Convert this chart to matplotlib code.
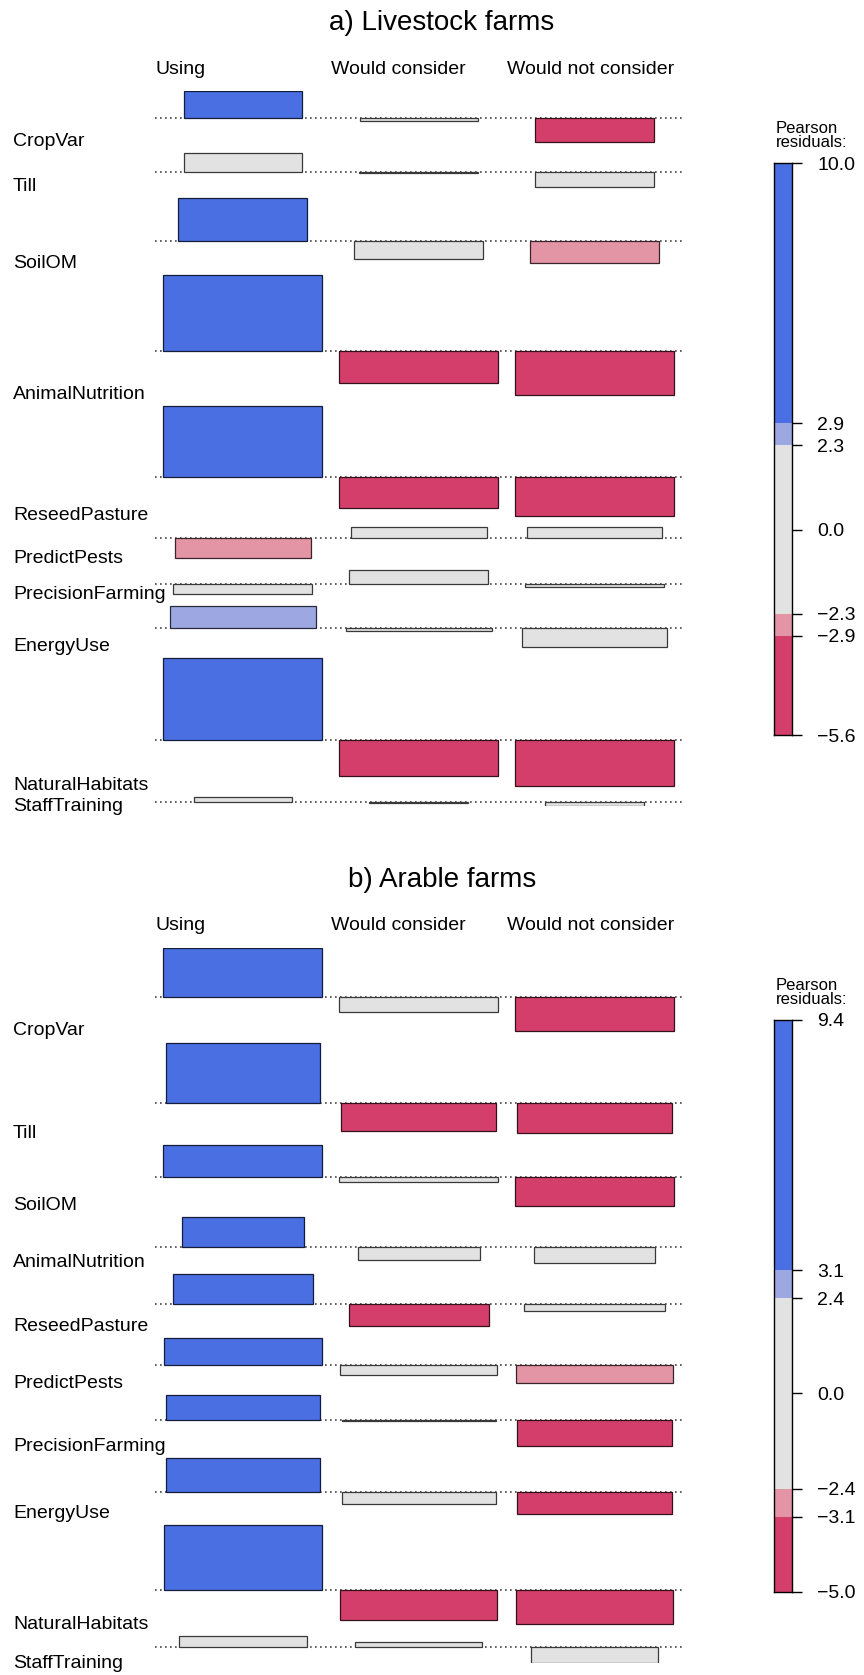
import matplotlib
matplotlib.use('Agg')
import matplotlib.pyplot as plt
import matplotlib.transforms as mtrans
from matplotlib.colors import to_rgb

plt.rcParams['font.family'] = ['Liberation Sans', 'DejaVu Sans']

techs = ['CropVar', 'Till', 'SoilOM', 'AnimalNutrition', 'ReseedPasture',
         'PredictPests', 'PrecisionFarming', 'EnergyUse', 'NaturalHabitats',
         'StaffTraining']
answers = ['Using', 'Would consider', 'Would not consider']

# Pearson residuals (rows = techs, cols = answers)
livestock_res = [
    [3.30, -0.37, -2.94],
    [2.25, -0.10, -1.84],
    [5.18, -2.28, -2.77],
    [9.30, -3.92, -5.38],
    [8.57, -3.87, -4.81],
    [-2.45, 1.35, 1.35],
    [-1.30, 1.68, -0.45],
    [2.73, -0.33, -2.25],
    [10.0, -4.40, -5.60],
    [0.55, -0.10, -0.55],
]
# relative sqrt(expected) widths per row
livestock_width = [0.742, 0.746, 0.81, 1.0, 1.0, 0.854, 0.874, 0.916, 1.0, 0.62]
livestock_cut = [2.3, 2.9]

arable_res = [
    [7.21, -2.09, -4.90],
    [8.72, -4.07, -4.45],
    [4.75, -0.68, -4.11],
    [4.26, -1.93, -2.35],
    [4.26, -3.30, -1.06],
    [3.97, -1.35, -2.62],
    [3.63, -0.15, -3.88],
    [4.94, -1.80, -3.15],
    [9.40, -4.40, -5.00],
    [1.64, 0.77, -2.35],
]
arable_width = [1.0, 0.973, 1.0, 0.765, 0.882, 0.99, 0.969, 0.969, 0.99, 0.80]
arable_cut = [2.4, 3.1]

BLUE, LBLUE, GREY, LRED, RED = '#4A6FE3', '#9DA8E2', '#E2E2E2', '#E495A5', '#D33F6A'

W, H = 864, 1675
fig = plt.figure(figsize=(W / 100, H / 100), dpi=100)


def fx(px):
    return px / W


def fy(px):
    return 1 - px / H


def shade(r, cut):
    if r > cut[1]:
        return BLUE
    if r > cut[0]:
        return LBLUE
    if r >= -cut[0]:
        return GREY
    if r >= -cut[1]:
        return LRED
    return RED


def dark(c):
    return tuple(v * 0.25 for v in to_rgb(c))


def panel(oy, title, res, widths, cut):
    top_px, bot_px = 90.7 + oy, 806.4 + oy
    left_px, right_px = 155, 682.4
    ax = fig.add_axes([fx(left_px), fy(bot_px), fx(right_px - left_px), (bot_px - top_px) / H])
    ax.axis('off')
    pos = [max(0, max(r)) for r in res]
    neg = [max(0, -min(r)) for r in res]
    g = 0.0162
    n = len(res)
    total = sum(p + q for p, q in zip(pos, neg)) / (1 - (n - 1) * g)
    gap = g * total
    sp = 0.105
    tr = mtrans.blended_transform_factory(fig.transFigure, ax.transData)
    y = 0
    for i, row in enumerate(res):
        base = y + pos[i]
        ax.axhline(base, ls=(0, (1, 2)), color='#444444', lw=1.2, zorder=1)
        for j, r in enumerate(row):
            c = shade(r, cut)
            ax.bar(j * (1 + sp), -r, width=widths[i], bottom=base, color=c,
                   edgecolor=dark(c), lw=0.9, zorder=2)
        ax.text(fx(13), base + neg[i], techs[i], transform=tr, va='center',
                ha='left', fontsize=14)
        y = base + neg[i] + gap
    ax.set_xlim(-0.5 - sp / 2, 2 * (1 + sp) + 0.5 + sp / 2)
    ax.set_ylim(total, 0)

    tr2 = mtrans.blended_transform_factory(ax.transData, fig.transFigure)
    for j, a in enumerate(answers):
        ax.text(j * (1 + sp) - 0.55, fy(69 + oy), a, transform=tr2,
                ha='left', va='center', fontsize=14)
    fig.text(fx(442), fy(23 + oy), title, ha='center', va='center', fontsize=20)

    # legend
    vmin = min(min(r) for r in res)
    vmax = max(max(r) for r in res)
    cax = fig.add_axes([fx(774), fy(735 + oy), fx(18), 572 / H])
    bounds = [vmin, -cut[1], -cut[0], cut[0], cut[1], vmax]
    cols = [RED, LRED, GREY, LBLUE, BLUE]
    for k, c in enumerate(cols):
        cax.bar(0, bounds[k + 1] - bounds[k], bottom=bounds[k], width=1, color=c, lw=0)
    cax.set_xlim(-0.5, 0.5)
    cax.set_ylim(vmin, vmax)
    cax.set_xticks([])
    ticks = [vmin, -cut[1], -cut[0], 0, cut[0], cut[1], vmax]
    cax.set_yticks(ticks)
    cax.set_yticklabels([f'{v:.1f}'.replace('-', '\u2212') for v in ticks])
    cax.yaxis.tick_right()
    cax.tick_params(axis='y', length=7, width=1, pad=11, labelsize=14)
    for s in cax.spines.values():
        s.set_linewidth(1)
    fig.text(fx(776), fy(135.5 + oy), 'Pearson\nresiduals:', ha='left', va='center',
             fontsize=12, linespacing=0.95)


panel(0, 'a) Livestock farms', livestock_res, livestock_width, livestock_cut)
panel(857, 'b) Arable farms', arable_res, arable_width, arable_cut)

fig.savefig('out.png', dpi=100)
